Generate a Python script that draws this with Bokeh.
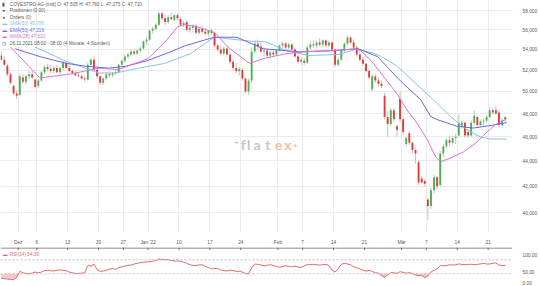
import json, math
import numpy as np
from bokeh.plotting import figure
from bokeh.layouts import column
from bokeh.models import FixedTicker, CustomJSTickFormatter, Span, Label
from bokeh.embed import file_html
from bokeh.resources import INLINE

# ---------------- data (4h candles, 2 per trading day; day index 0 = 1 Dec 2021) ----------------
first_day = -3
opens = [53.4, 53.0, 52.4, 51.6, 50.5, 49.8, 49.7, 51.3, 50.9, 51.4, 51.6, 51.1, 50.5, 51.0, 51.8, 52.3,
         52.1, 51.9, 52.2, 51.8, 52.2, 52.7, 52.2, 51.9, 51.7, 51.5, 51.4, 51.2, 51.1, 52.5, 53.0, 52.0,
         51.4, 50.8, 51.2, 51.6, 51.5, 51.7, 51.8, 52.5, 52.9, 53.3, 53.5, 53.8, 53.6, 53.9, 54.1, 54.8,
         55.0, 55.9, 56.1, 56.5, 57.7, 57.2, 56.8, 57.3, 57.0, 57.5, 57.1, 56.5, 56.8, 56.0, 56.2, 56.4,
         55.7, 56.1, 55.8, 55.6, 55.9, 55.7, 54.4, 54.0, 53.6, 54.1, 53.5, 52.8, 52.2, 51.9, 52.0, 51.2,
         50.0, 51.0, 53.8, 54.6, 54.3, 53.8, 53.9, 53.4, 53.7, 53.5, 53.9, 54.4, 54.6, 54.2, 54.5, 54.0,
         53.3, 52.8, 52.9, 52.7, 54.2, 54.5, 54.4, 54.7, 54.5, 54.9, 54.4, 54.7, 54.0, 52.5, 53.0, 53.9,
         54.6, 55.2, 54.7, 54.2, 53.5, 53.0, 52.6, 51.9, 50.2, 51.4, 51.0, 50.7, 49.6, 47.7, 47.1, 48.3,
         46.9, 49.3, 47.5, 45.4, 46.3, 45.5, 44.9, 43.9, 42.6, 42.4, 41.0, 40.5, 41.7, 42.7, 42.1, 44.6,
         45.2, 45.7, 45.5, 45.9, 46.1, 46.9, 47.2, 46.4, 46.1, 47.2, 47.7, 47.0, 47.3, 47.4, 47.7, 48.3,
         48.3, 48.1, 47.0, 47.505]
highs = [53.8, 53.3, 52.6, 51.8, 50.7, 50.1, 51.6, 51.6, 51.6, 51.9, 51.9, 51.2, 51.2, 51.9, 52.5, 52.6,
         52.5, 52.4, 52.5, 52.3, 52.9, 52.8, 52.4, 52.1, 51.9, 51.8, 51.6, 51.4, 52.7, 53.2, 53.4, 52.2,
         51.5, 51.3, 51.8, 51.9, 51.8, 52.0, 52.6, 53.0, 53.5, 53.7, 54.0, 54.0, 54.0, 54.3, 54.9, 55.2,
         56.0, 56.3, 56.7, 57.9, 57.9, 57.6, 57.5, 57.8, 57.6, 57.7, 57.3, 56.9, 57.0, 56.4, 56.6, 56.6,
         56.3, 56.4, 56.2, 56.0, 56.1, 55.8, 54.6, 54.4, 54.3, 54.3, 53.7, 53.0, 52.7, 52.3, 52.2, 51.3,
         51.2, 54.2, 54.9, 55.0, 54.7, 54.2, 54.1, 53.9, 54.0, 54.1, 54.5, 54.8, 54.8, 54.7, 54.6, 54.2,
         53.5, 53.2, 53.2, 54.4, 54.8, 54.9, 54.9, 55.1, 55.0, 55.0, 54.9, 54.8, 54.1, 53.2, 54.0, 54.7,
         55.4, 55.3, 55.0, 54.4, 53.8, 53.3, 52.7, 52.0, 51.6, 51.6, 51.3, 51.0, 49.9, 48.2, 48.5, 48.5,
         47.0, 50.0, 47.7, 46.0, 46.5, 45.6, 45.1, 44.1, 42.8, 42.6, 41.1, 41.9, 42.9, 42.8, 44.8, 45.4,
         45.9, 46.1, 46.1, 46.2, 47.9, 47.4, 47.3, 46.6, 47.4, 48.3, 47.9, 47.5, 47.6, 47.9, 48.6, 48.5,
         48.7, 48.3, 47.6, 47.76]
lows = [52.9, 52.4, 51.4, 50.6, 49.7, 49.3, 49.6, 50.7, 50.6, 51.1, 51.2, 50.3, 50.3, 50.9, 51.6, 51.9,
        51.7, 51.7, 51.7, 51.6, 52.0, 52.1, 51.8, 51.6, 51.4, 51.3, 51.1, 50.9, 51.0, 52.3, 51.8, 51.2,
        50.6, 50.6, 51.1, 51.3, 51.3, 51.5, 51.7, 52.4, 52.7, 53.1, 53.3, 53.4, 53.4, 53.7, 54.0, 54.5,
        54.9, 55.6, 55.9, 56.4, 57.0, 56.5, 56.6, 57.0, 56.9, 57.0, 56.3, 56.3, 55.8, 55.7, 55.7, 55.5,
        55.5, 55.6, 55.4, 55.3, 55.5, 54.2, 53.8, 53.4, 53.4, 53.3, 52.6, 52.0, 51.7, 51.5, 51.0, 49.8,
        49.7, 50.8, 53.6, 54.0, 53.6, 53.3, 53.2, 53.1, 53.3, 53.4, 53.8, 54.1, 54.0, 54.0, 53.9, 53.2,
        52.6, 52.5, 52.5, 52.6, 54.0, 54.2, 54.1, 54.3, 54.2, 54.3, 54.2, 53.9, 52.3, 52.3, 52.9, 53.7,
        54.4, 54.5, 54.0, 53.3, 52.8, 52.4, 51.8, 51.1, 50.0, 50.8, 50.5, 50.3, 47.5, 46.0, 46.9, 47.3,
        46.0, 47.3, 46.2, 45.2, 45.3, 44.6, 43.8, 42.1, 42.2, 42.0, 39.5, 40.3, 41.4, 41.8, 42.0, 44.3,
        45.0, 45.2, 45.3, 45.4, 46.0, 46.7, 45.9, 45.9, 46.0, 47.0, 46.8, 46.9, 47.0, 47.2, 47.6, 47.9,
        47.9, 46.8, 46.9, 47.275]
closes = [53.0, 52.5, 51.6, 50.8, 49.8, 49.6, 51.4, 50.9, 51.4, 51.6, 51.3, 50.4, 51.0, 51.8, 52.3, 52.1,
          51.9, 52.2, 51.8, 52.2, 52.7, 52.2, 51.9, 51.7, 51.5, 51.4, 51.2, 51.1, 52.5, 53.0, 52.0, 51.4,
          50.8, 51.2, 51.6, 51.5, 51.7, 51.8, 52.5, 52.9, 53.3, 53.5, 53.8, 53.6, 53.9, 54.1, 54.8, 55.0,
          55.9, 56.1, 56.5, 57.7, 57.2, 56.8, 57.3, 57.1, 57.5, 57.2, 56.5, 56.7, 56.0, 56.2, 56.4, 55.7,
          56.1, 55.8, 55.6, 55.9, 55.7, 54.4, 54.0, 53.6, 54.1, 53.5, 52.8, 52.2, 51.9, 52.1, 51.2, 50.0,
          51.0, 53.8, 54.6, 54.3, 53.8, 53.9, 53.4, 53.7, 53.5, 53.9, 54.4, 54.6, 54.2, 54.5, 54.0, 53.3,
          52.8, 53.0, 52.7, 54.2, 54.5, 54.4, 54.7, 54.5, 54.9, 54.4, 54.7, 54.0, 52.5, 53.0, 53.9, 54.6,
          55.2, 54.7, 54.2, 53.5, 53.0, 52.6, 51.9, 51.3, 51.4, 51.0, 50.7, 50.5, 47.7, 47.1, 48.3, 47.5,
          46.6, 47.5, 46.4, 45.9, 45.5, 44.9, 44.6, 42.3, 42.3, 42.2, 40.5, 41.7, 42.7, 42.0, 44.6, 45.2,
          45.7, 45.5, 45.9, 46.0, 47.2, 47.2, 46.1, 46.1, 47.2, 47.8, 47.0, 47.3, 47.4, 47.7, 48.3, 48.1,
          48.0, 47.0, 47.4, 47.71]
rsi = [17, 16, 15, 14, 13, 20, 37, 33, 31, 30, 32, 35, 33, 35, 39, 40, 39, 38, 40, 41, 40, 39, 35, 33,
       31, 31, 32, 33, 54, 52, 57, 42, 37, 38, 40, 43, 45, 43, 47, 50, 52, 54, 55, 58, 60, 62, 63, 64,
       65, 66, 68, 72, 71, 70, 71, 68, 67, 67, 66, 63, 60, 56, 54, 54, 55, 56, 51, 48, 44, 45, 45, 41,
       39, 38, 40, 39, 37, 37, 35, 31, 30, 47, 58, 57, 55, 53, 54, 56, 54, 51, 49, 51, 53, 51, 50, 52,
       49, 48, 53, 56, 56, 57, 56, 55, 56, 57, 54, 41, 35, 45, 57, 60, 58, 56, 50, 47, 44, 40, 38, 40,
       37, 33, 32, 25, 20, 27, 33, 33, 31, 36, 34, 32, 33, 31, 27, 24, 25, 19, 24, 35, 40, 44, 54, 53,
       53, 56, 55, 56, 58, 57, 56, 57, 57, 56, 57, 58, 60, 58, 58, 60, 61, 55, 53, 54.39]

# moving averages (x in trading days)
sma_x = [2.71, 7.80, 13.06, 15.76, 19.43, 23.73, 27.87, 31.69, 37.42, 40.13, 43.31, 46.97, 51.75, 54.94,
         57.64, 58.76, 61.31, 64.49, 67.20, 69.90, 72.45, 74.68, 76.27, 78.98]
sma_y = [54.26, 52.83, 51.72, 51.72, 52.18, 52.64, 53.59, 55.23, 54.84, 54.75, 53.88, 53.41, 53.50, 54.07,
         53.59, 53.30, 52.36, 50.63, 49.20, 47.74, 46.65, 45.99, 45.82, 45.796]
ema_x = [-0.48, 3.50, 7.80, 10.99, 14.65, 17.36, 21.02, 24.68, 26.91, 31.69, 35.35, 39.65, 45.38, 50.80,
         54.94, 58.12, 61.31, 65.13, 66.72, 67.68, 70.86, 73.57, 76.75, 78.98]
ema_y = [54.07, 53.30, 52.64, 52.36, 52.18, 52.36, 52.93, 53.78, 54.36, 55.23, 55.23, 54.07, 53.78, 53.88,
         54.07, 53.30, 51.26, 49.21, 47.74, 47.49, 46.91, 46.74, 46.99, 47.219]
wma_x = [-1.27, 3.50, 8.28, 13.06, 16.24, 21.02, 23.73, 25.80, 26.91, 28.98, 31.69, 34.24, 37.42, 39.65,
         43.31, 46.50, 50.80, 54.46, 55.41, 57.17, 59.24, 61.31, 62.74, 64.49, 66.08, 67.52, 68.31, 69.90,
         71.97, 74.04, 75.16, 77.23, 78.98]
wma_y = [54.26, 51.26, 51.60, 52.18, 52.05, 53.11, 54.75, 56.32, 56.52, 56.30, 55.72, 54.07, 52.64, 53.11,
         53.59, 53.78, 53.88, 54.07, 53.88, 52.83, 51.26, 49.74, 48.43, 47.16, 45.84, 44.32, 43.93, 44.24,
         44.72, 45.49, 46.08, 47.07, 47.52]

tick_days = [0, 3, 8, 13, 17, 21, 26, 31, 36, 42, 46, 51, 56, 62, 66, 71, 76]
tick_labels = ["Dez", "6", "13", "20", "27", "Jan '22", "10", "17", "24", "Feb", "7", "14", "21",
               "Mär", "7", "14", "21"]
price_ticks = [40, 42, 44, 46, 48, 50, 52, 54, 56, 58]
rsi_levels = [30, 70]
rsi_axis_values = [100, 50, 0]
rsi_axis_labels = ["100.00", "50.00", "0.00"]

# ---------------- layout constants ----------------
FONT = "Liberation Sans"
PX_PER_DAY = 6.28
DAY0_PX = 18.0
FRAME_W = 520
MAIN_H, MAIN_FRAME_H = 247, 240
REF_PRICE, REF_PX, PX_PER_LOG = 48.0, 117.0, 563.0
RSI_TOP, RSI_BOT, RSI50_PX, PX_PER_RSI = 247.0, 286.0, 266.3, 0.35

def dx(px):
    return (px - DAY0_PX) / PX_PER_DAY

def dy(py):
    return REF_PRICE * math.exp((REF_PX - py) / PX_PER_LOG)

def ry(py):
    return 50 + (RSI50_PX - py) / PX_PER_RSI

def de(v, nd=3):
    return f"{v:.{nd}f}".replace(".", ",")

n = len(closes)
o, h, l, c = map(np.array, (opens, highs, lows, closes))
day = np.repeat(np.arange(first_day, first_day + n // 2), 2)
xs = day + np.tile([0.25, 0.75], n // 2)
up = c >= o

GREEN, RED, WICK = "#4caf50", "#e53935", "#c2c2c2"
SMA_C, EMA_C, WMA_C = "#86c3e6", "#6b68d6", "#d873d8"
GRID = "#ececec"
TXT = "#5a5a5a"

x_range = (dx(0), dx(FRAME_W))

# ---------------- main price chart ----------------
p = figure(width=540, height=MAIN_H, x_range=x_range, y_range=(dy(MAIN_FRAME_H), dy(0)),
           y_axis_type="log", y_axis_location="right", toolbar_location=None,
           output_backend="svg", min_border_left=0, min_border_right=20,
           min_border_top=0, min_border_bottom=7)
p.outline_line_color = None
p.background_fill_color = "white"
p.border_fill_color = "white"

xmap = json.dumps({str(d): t for d, t in zip(tick_days, tick_labels)})
p.xaxis.ticker = FixedTicker(ticks=tick_days)
p.xaxis.formatter = CustomJSTickFormatter(code=f"const m = {xmap}; return (tick in m) ? m[tick] : '';")
p.xaxis.axis_line_color = None
p.xaxis.major_tick_line_color = None
p.xaxis.minor_tick_line_color = None
p.xaxis.major_label_text_font_size = "4.8px"
p.xaxis.major_label_text_color = TXT
p.xaxis.major_label_text_font = FONT
p.xaxis.major_label_standoff = 1

p.yaxis.ticker = FixedTicker(ticks=price_ticks)
p.yaxis.formatter = CustomJSTickFormatter(code="return tick.toFixed(3).replace('.', ',');")
p.yaxis.axis_line_color = None
p.yaxis.major_tick_line_color = None
p.yaxis.minor_tick_line_color = None
p.yaxis.major_label_text_font_size = "4.8px"
p.yaxis.major_label_text_color = TXT
p.yaxis.major_label_text_font = FONT
p.yaxis.major_label_standoff = 4

p.xgrid.grid_line_color = GRID
p.ygrid.grid_line_color = GRID

# watermark
WM_GRAY, WM_ORANGE = "#c6c6c6", "#f6bf9c"
p.add_layout(Label(x=dx(239.5), y=dy(146), text="-", text_color=WM_GRAY, text_font_size="14px",
                   text_font="Lato", text_font_style="bold", text_align="center",
                   text_baseline="alphabetic"))
for ch, px, col in [("f", 246.5, WM_GRAY), ("l", 252, WM_GRAY), ("a", 260.5, WM_GRAY),
                    ("t", 271.5, WM_GRAY), ("e", 282.5, WM_ORANGE), ("x", 292, WM_ORANGE),
                    ("·", 299.5, WM_ORANGE)]:
    p.add_layout(Label(x=dx(px), y=dy(149), text=ch, text_color=col, text_font_size="14px",
                       text_font="Lato", text_font_style="bold", text_align="center",
                       text_baseline="alphabetic"))

# candles
p.segment(xs, h, xs, l, line_color=WICK, line_width=1)
p.vbar(x=xs[up], width=0.3, top=c[up], bottom=o[up], fill_color=GREEN, line_color=None)
p.vbar(x=xs[~up], width=0.3, top=o[~up], bottom=c[~up], fill_color=RED, line_color=None)

# moving averages
p.line(sma_x, sma_y, line_color=SMA_C, line_width=1)
p.line(ema_x, ema_y, line_color=EMA_C, line_width=1)
p.line(wma_x, wma_y, line_color=WMA_C, line_width=1)

# legend block
def lab(fig, px, yv, text, color, size="4.7px", **kw):
    fig.add_layout(Label(x=dx(px), y=yv, text=text, text_color=color, text_font_size=size,
                         text_font=FONT, text_align="left", text_baseline="middle", **kw))

rows = [
    ("▮", "#555555", f"COVESTRO AG (mid) O: {de(opens[-1])} H: {de(highs[-1])} L: {de(lows[-1])} C: {de(closes[-1])}", TXT),
    ("●", "#555555", "Positionen (0,00)", TXT),
    ("●", "#555555", "Orders (0)", TXT),
    ("▬", SMA_C, f"SMA(50) {de(sma_y[-1])}", SMA_C),
    ("▬", EMA_C, f"EMA(50) {de(ema_y[-1])}", EMA_C),
    ("▬", WMA_C, f"WMA(28) {de(wma_y[-1])}", WMA_C),
    ("◷", "#555555", "26.11.2021 08:00 - 08:00 (4 Monate, 4 Stunden)", TXT),
]
row_px = [4.6, 10.8, 17.4, 24.2, 30.8, 37.4, 44.3]
for (icon, icol, text, tcol), py in zip(rows, row_px):
    lab(p, 2, dy(py), icon, icol, size="4.5px")
    lab(p, 9.5, dy(py), text, tcol)

# last price tag
p.add_layout(Label(x=dx(522), y=closes[-1], text=de(closes[-1]), text_color="white",
                   text_font_size="4.8px", text_font=FONT, text_align="left", text_baseline="middle",
                   background_fill_color="#111111", padding=1, border_radius=2))

# ---------------- RSI panel ----------------
r = figure(width=540, height=int(RSI_BOT - RSI_TOP), x_range=p.x_range,
           y_range=(ry(RSI_BOT), ry(RSI_TOP)), x_axis_location=None, y_axis_location="right",
           toolbar_location=None, output_backend="svg", min_border_left=0, min_border_right=20,
           min_border_top=0, min_border_bottom=0)
r.outline_line_color = None
r.background_fill_color = "white"
r.border_fill_color = "white"
r.grid.visible = False

# separator line with small ticks at the date positions
r.add_layout(Span(location=ry(RSI_TOP + 0.5), dimension="width", line_color="#6a6a6a", line_width=1))
r.segment(x0=tick_days, y0=[ry(RSI_TOP)] * len(tick_days), x1=tick_days,
          y1=[ry(RSI_TOP + 2.5)] * len(tick_days), line_color="#6a6a6a", line_width=1)

label_offsets_px = [5.2, 4.7, -1.8]
rsi_tick_pos = [v - off / PX_PER_RSI for v, off in zip(rsi_axis_values, label_offsets_px)]
rmap = json.dumps({f"{t:.2f}": s for t, s in zip(rsi_tick_pos, rsi_axis_labels)})
r.yaxis.ticker = FixedTicker(ticks=rsi_tick_pos)
r.yaxis.formatter = CustomJSTickFormatter(code=f"const m = {rmap}; return m[tick.toFixed(2)] || '';")
r.yaxis.axis_line_color = None
r.yaxis.major_tick_line_color = None
r.yaxis.minor_tick_line_color = None
r.yaxis.major_label_text_font_size = "4.8px"
r.yaxis.major_label_text_color = TXT
r.yaxis.major_label_text_font = FONT
r.yaxis.major_label_standoff = 4

rs = np.array(rsi, dtype=float)
lo_lvl, hi_lvl = rsi_levels
r.varea(x=xs, y1=np.minimum(rs, lo_lvl), y2=lo_lvl, fill_color="#f3a3a3", fill_alpha=0.6)
r.varea(x=xs, y1=hi_lvl, y2=np.maximum(rs, hi_lvl), fill_color="#9fd69f", fill_alpha=0.6)
for lvl in rsi_levels:
    r.add_layout(Span(location=lvl, dimension="width", line_color="#bdbdbd", line_width=1,
                      line_dash="2 2"))
RSI_C = "#e06a6a"
r.line(xs, rs, line_color=RSI_C, line_width=1)
lab(r, 2.5, ry(253.5), "▬", RSI_C, size="4.5px")
lab(r, 9.5, ry(253.5), f"RSI(14) {rsi[-1]:.2f}", RSI_C)

layout = column(p, r, spacing=0)
open("out.html", "w").write(file_html(layout, INLINE))
